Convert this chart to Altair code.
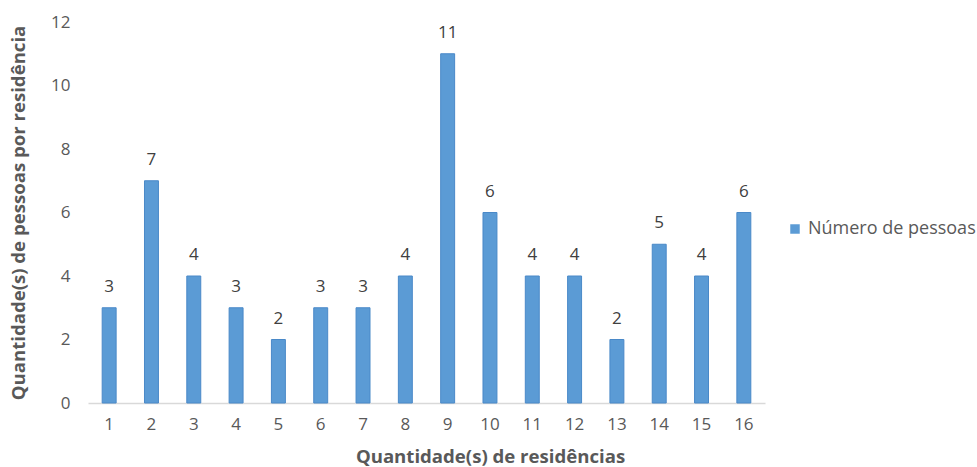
import altair as alt
import pandas as pd

residencias = [str(i) for i in range(1, 17)]
pessoas = [3, 7, 4, 3, 2, 3, 3, 4, 11, 6, 4, 4, 2, 5, 4, 6]
serie = "Número de pessoas"

df = pd.DataFrame({"res": residencias, "val": pessoas, "serie": [serie] * len(pessoas)})

FONT = "Open Sans"
TXT = "#595959"

base = alt.Chart(df)

bars = base.mark_bar(stroke="#4A89C8", strokeWidth=1).encode(
    x=alt.X("res:N", sort=residencias,
            scale=alt.Scale(paddingInner=0.67, paddingOuter=0.335),
            axis=alt.Axis(title="Quantidade(s) de residências", labelAngle=0,
                          labelFont=FONT, labelFontSize=17, labelColor=TXT,
                          labelPadding=13, ticks=False, domainColor="#D9D9D9",
                          domainWidth=1.5,
                          titleFont=FONT, titleFontSize=18.6, titleFontWeight="bold",
                          titleColor=TXT, titleX=402, titleAlign="center",
                          titleY=53, titleBaseline="middle")),
    y=alt.Y("val:Q", scale=alt.Scale(domain=[0, 12], nice=False),
            axis=alt.Axis(title="Quantidade(s) de pessoas por residência",
                          values=[0, 2, 4, 6, 8, 10, 12], grid=False, domain=False,
                          ticks=False, labelPadding=18, labelFont=FONT,
                          labelFontSize=17, labelColor=TXT,
                          titleFont=FONT, titleFontSize=18.6, titleFontWeight="bold",
                          titleColor=TXT, titleX=-70, titleBaseline="middle")),
    color=alt.Color("serie:N", scale=alt.Scale(range=["#5B9BD5"]),
                    legend=alt.Legend(title=None, orient="none", legendX=698,
                                      legendY=198, symbolType="square",
                                      symbolSize=90, symbolStrokeWidth=0,
                                      labelFont=FONT, labelFontSize=18,
                                      labelLimit=300,
                                      labelColor=TXT, labelOffset=4)),
)

labels = base.mark_text(font=FONT, fontSize=17, color="#404040",
                        baseline="middle", dy=-21).encode(
    x=alt.X("res:N", sort=residencias),
    y=alt.Y("val:Q"),
    text=alt.Text("val:Q"),
)

chart = (bars + labels).properties(
    width=677, height=381,
    background="white",
    autosize=alt.AutoSizeParams(type="none"),
    padding={"left": 88, "top": 22, "right": 212, "bottom": 64},
).configure_view(strokeWidth=0)

chart.save("out.html", embed_options={"renderer": "svg", "actions": False})
